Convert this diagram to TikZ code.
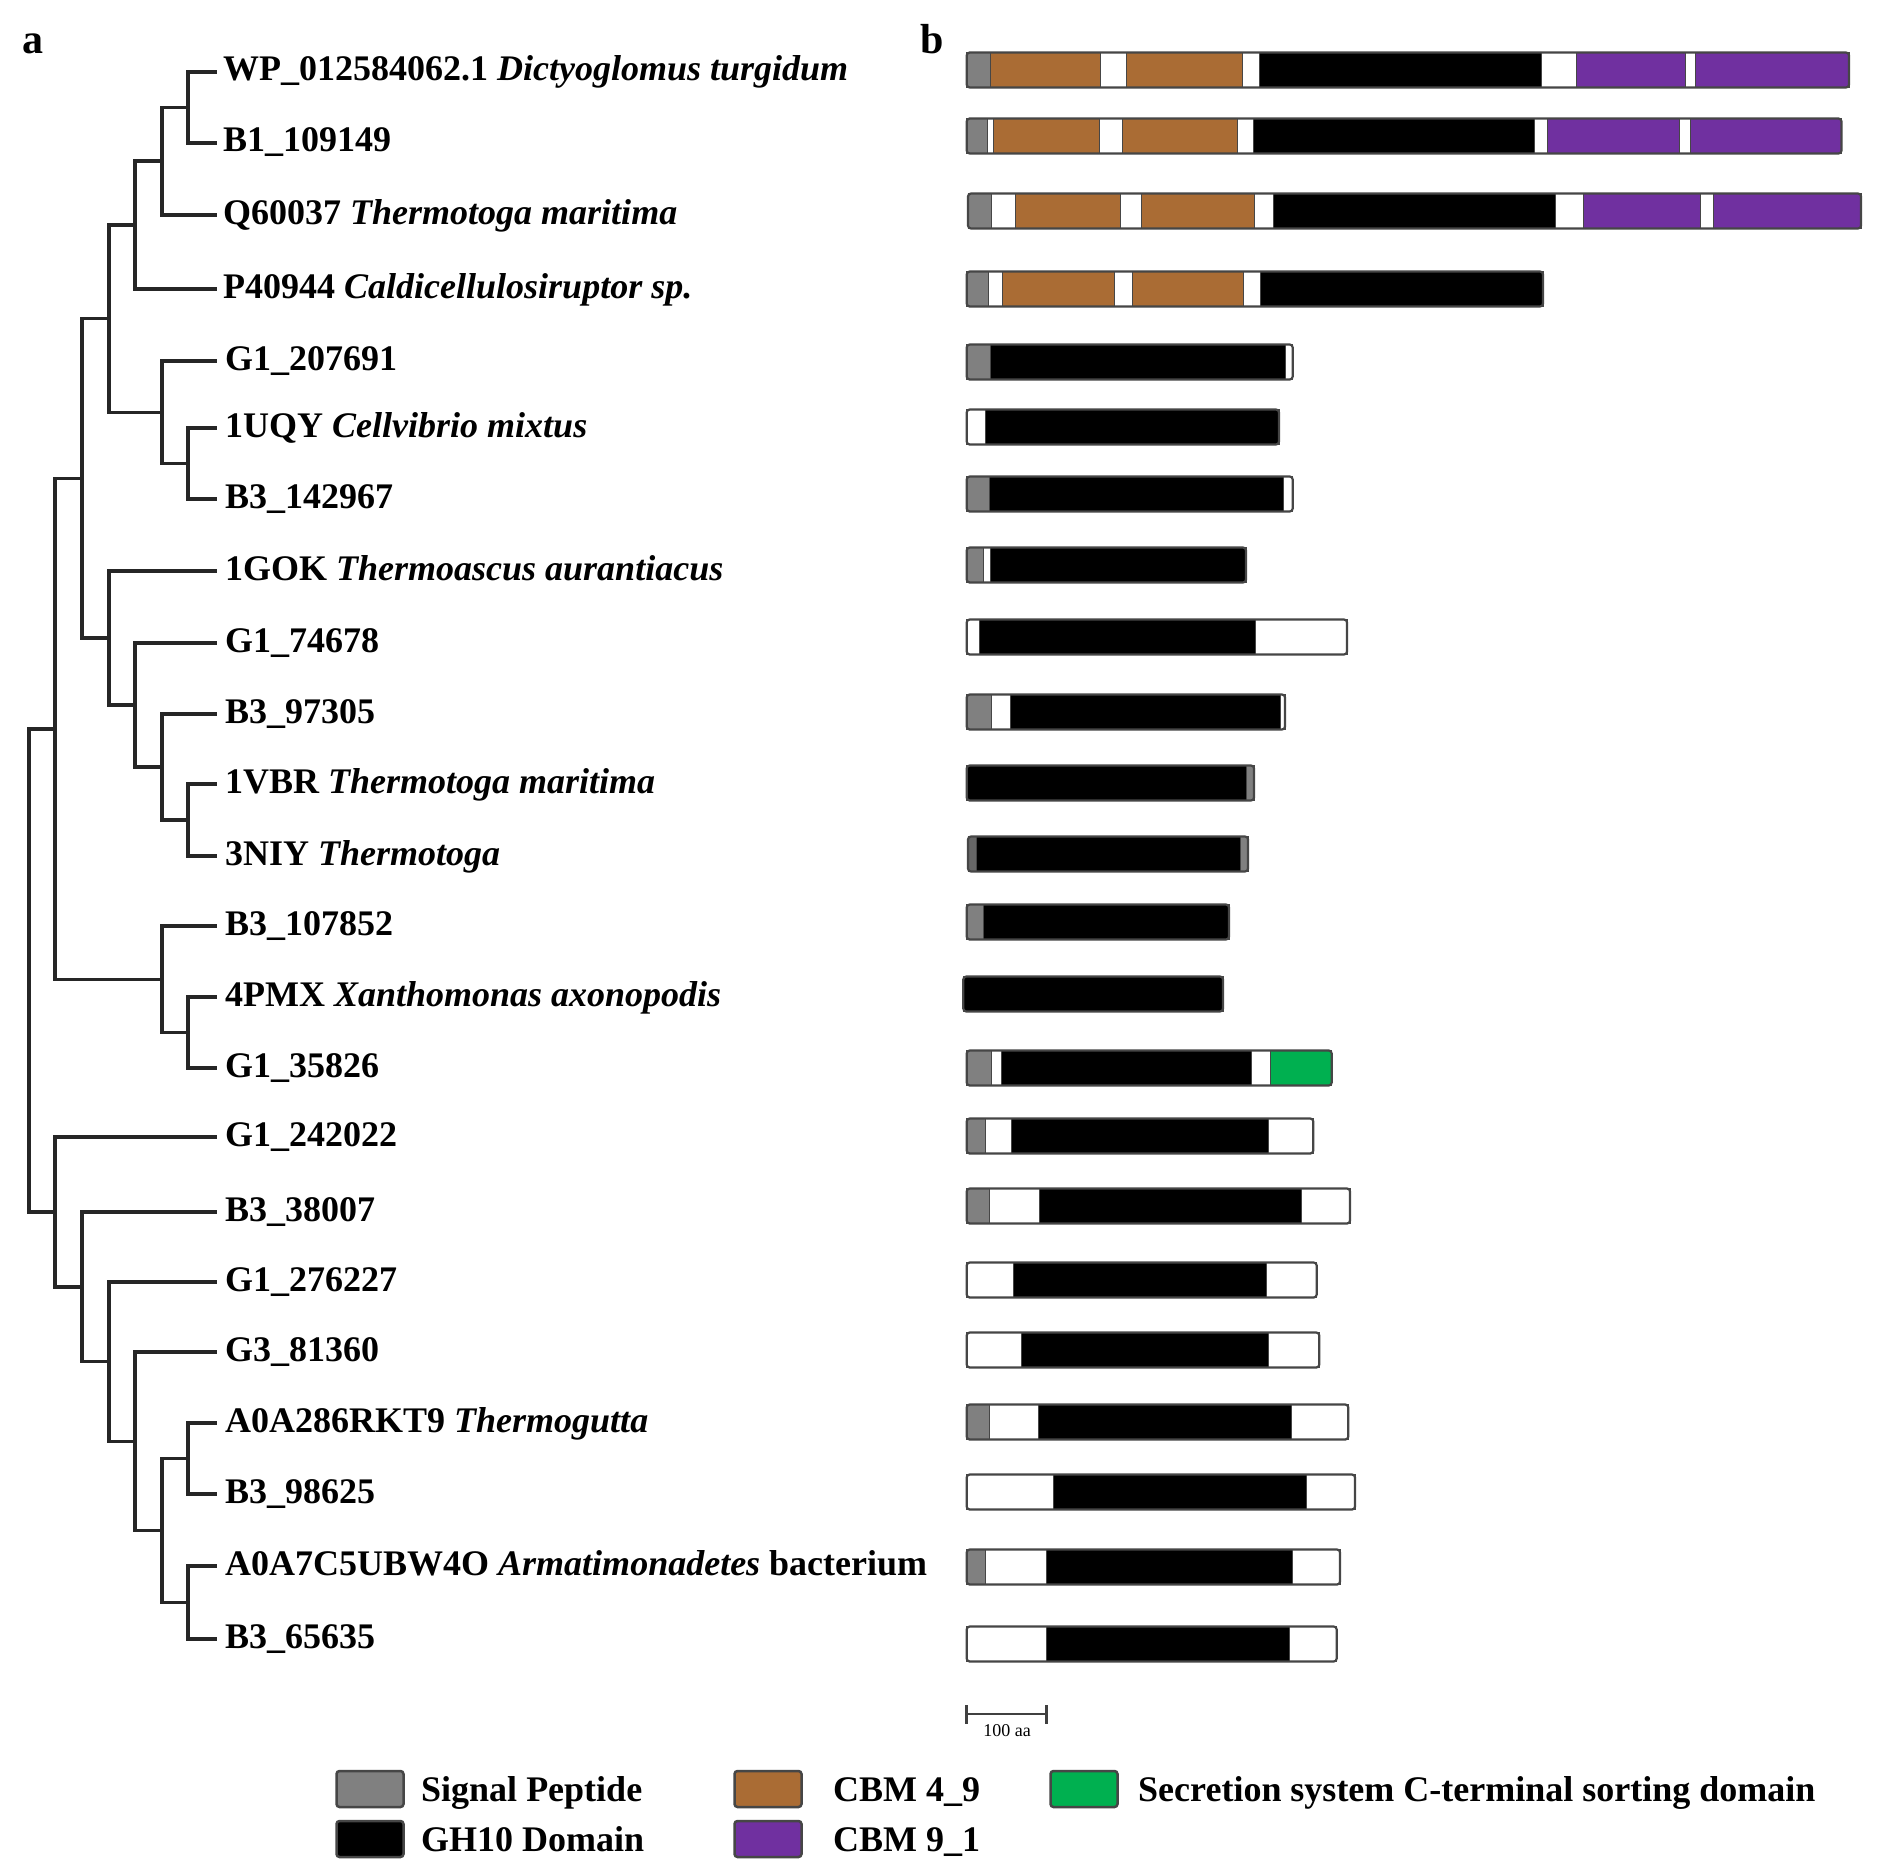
\documentclass[tikz,border=0pt]{standalone}
\usepackage{fontspec}
\setmainfont{Liberation Serif}
\definecolor{spgrey}{RGB}{128,128,128}
\definecolor{cbmbrown}{RGB}{170,108,52}
\definecolor{cbmpurple}{RGB}{112,48,160}
\definecolor{secgreen}{RGB}{0,176,80}
\definecolor{edgegrey}{RGB}{70,70,70}
\tikzset{
  branch/.style={line width=3.4pt, draw=black!85, line cap=rect},
  leaflabel/.style={anchor=base west, inner sep=0pt, font=\fontsize{36}{40}\selectfont\bfseries},
  panellabel/.style={anchor=base west, inner sep=0pt, font=\fontsize{42}{46}\selectfont\bfseries},
  segment/.style={draw=edgegrey, line width=1pt},
  barline/.style={draw=edgegrey, line width=2.2pt, rounded corners=3pt},
  legbox/.style={draw=edgegrey, line width=2.5pt, rounded corners=3pt, minimum width=67pt, minimum height=36pt, inner sep=0pt},
  scaleline/.style={draw=black!75, line width=2.5pt},
}
% #1 y centre, #2 start x, #3 end x, #4 list of end-x/colour
\newcommand{\dombar}[4]{%
  \foreach \e/\c [remember=\e as \b (initially #2)] in {#4}
    {\path[segment, fill=\c] (\b,#1-17.5) rectangle (\e,#1+17.5);}
  \draw[barline] (#2,#1-17.5) rectangle (#3,#1+17.5);
}
\begin{document}
\begin{tikzpicture}[x=1pt,y=-1pt]
\useasboundingbox (0,0) rectangle (1885,1865);
\fill[white] (0,0) rectangle (1885,1865);

% panel labels
\node[panellabel] (pa) at (22,54) {a};
\node[panellabel] (pb) at (920,54) {b};

% leaves
\coordinate (l1) at (215,72);
\coordinate (l2) at (215,143);
\coordinate (l3) at (215,215);
\coordinate (l4) at (215,289);
\coordinate (l5) at (215,361);
\coordinate (l6) at (215,428);
\coordinate (l7) at (215,499);
\coordinate (l8) at (215,571);
\coordinate (l9) at (215,643);
\coordinate (l10) at (215,714);
\coordinate (l11) at (215,784);
\coordinate (l12) at (215,856);
\coordinate (l13) at (215,926);
\coordinate (l14) at (215,997);
\coordinate (l15) at (215,1068);
\coordinate (l16) at (215,1137);
\coordinate (l17) at (215,1212);
\coordinate (l18) at (215,1282);
\coordinate (l19) at (215,1352);
\coordinate (l20) at (215,1423);
\coordinate (l21) at (215,1494);
\coordinate (l22) at (215,1566);
\coordinate (l23) at (215,1639);

% internal nodes
\coordinate (nA) at (188,107.5);
\coordinate (nB) at (162,161.2);
\coordinate (nC) at (135,225.1);
\coordinate (nD) at (188,463.5);
\coordinate (nE) at (162,412.2);
\coordinate (nF) at (109,318.7);
\coordinate (nG) at (188,820);
\coordinate (nH) at (162,767);
\coordinate (nI) at (135,705);
\coordinate (nJ) at (109,638);
\coordinate (nK) at (82,478.3);
\coordinate (nM) at (188,1032.5);
\coordinate (nN) at (162,979.2);
\coordinate (nO) at (55,728.8);
\coordinate (nP) at (188,1602.5);
\coordinate (nQ) at (188,1458.5);
\coordinate (nR) at (162,1530.5);
\coordinate (nS) at (135,1441.2);
\coordinate (nT) at (109,1361.6);
\coordinate (nU) at (82,1286.8);
\coordinate (nV) at (55,1211.9);
\coordinate (nRoot) at (29,970.3);

% branches
\draw[branch] (nA) |- (l1); \draw[branch] (nA) |- (l2);
\draw[branch] (nB) |- (nA); \draw[branch] (nB) |- (l3);
\draw[branch] (nC) |- (nB); \draw[branch] (nC) |- (l4);
\draw[branch] (nD) |- (l6); \draw[branch] (nD) |- (l7);
\draw[branch] (nE) |- (l5); \draw[branch] (nE) |- (nD);
\draw[branch] (nF) |- (nC); \draw[branch] (nF) |- (nE);
\draw[branch] (nG) |- (l11); \draw[branch] (nG) |- (l12);
\draw[branch] (nH) |- (l10); \draw[branch] (nH) |- (nG);
\draw[branch] (nI) |- (l9); \draw[branch] (nI) |- (nH);
\draw[branch] (nJ) |- (l8); \draw[branch] (nJ) |- (nI);
\draw[branch] (nK) |- (nF); \draw[branch] (nK) |- (nJ);
\draw[branch] (nM) |- (l14); \draw[branch] (nM) |- (l15);
\draw[branch] (nN) |- (l13); \draw[branch] (nN) |- (nM);
\draw[branch] (nO) |- (nK); \draw[branch] (nO) |- (nN);
\draw[branch] (nP) |- (l22); \draw[branch] (nP) |- (l23);
\draw[branch] (nQ) |- (l20); \draw[branch] (nQ) |- (l21);
\draw[branch] (nR) |- (nQ); \draw[branch] (nR) |- (nP);
\draw[branch] (nS) |- (l19); \draw[branch] (nS) |- (nR);
\draw[branch] (nT) |- (l18); \draw[branch] (nT) |- (nS);
\draw[branch] (nU) |- (l17); \draw[branch] (nU) |- (nT);
\draw[branch] (nV) |- (l16); \draw[branch] (nV) |- (nU);
\draw[branch] (nRoot) |- (nO); \draw[branch] (nRoot) |- (nV);

% leaf labels
\node[leaflabel] (t1) at ([shift={(8,9)}]l1) {WP\_012584062.1 \textit{Dictyoglomus turgidum}};
\node[leaflabel] (t2) at ([shift={(8,9)}]l2) {B1\_109149};
\node[leaflabel] (t3) at ([shift={(8,9)}]l3) {Q60037 \textit{Thermotoga maritima}};
\node[leaflabel] (t4) at ([shift={(8,9)}]l4) {P40944 \textit{Caldicellulosiruptor sp.}};
\node[leaflabel] (t5) at ([shift={(10,9)}]l5) {G1\_207691};
\node[leaflabel] (t6) at ([shift={(10,9)}]l6) {1UQY \textit{Cellvibrio mixtus}};
\node[leaflabel] (t7) at ([shift={(10,9)}]l7) {B3\_142967};
\node[leaflabel] (t8) at ([shift={(10,9)}]l8) {1GOK \textit{Thermoascus aurantiacus}};
\node[leaflabel] (t9) at ([shift={(10,9)}]l9) {G1\_74678};
\node[leaflabel] (t10) at ([shift={(10,9)}]l10) {B3\_97305};
\node[leaflabel] (t11) at ([shift={(10,9)}]l11) {1VBR \textit{Thermotoga maritima}};
\node[leaflabel] (t12) at ([shift={(10,9)}]l12) {3NIY \textit{Thermotoga}};
\node[leaflabel] (t13) at ([shift={(10,9)}]l13) {B3\_107852};
\node[leaflabel] (t14) at ([shift={(10,9)}]l14) {4PMX \textit{Xanthomonas axonopodis}};
\node[leaflabel] (t15) at ([shift={(10,9)}]l15) {G1\_35826};
\node[leaflabel] (t16) at ([shift={(10,9)}]l16) {G1\_242022};
\node[leaflabel] (t17) at ([shift={(10,9)}]l17) {B3\_38007};
\node[leaflabel] (t18) at ([shift={(10,9)}]l18) {G1\_276227};
\node[leaflabel] (t19) at ([shift={(10,9)}]l19) {G3\_81360};
\node[leaflabel] (t20) at ([shift={(10,9)}]l20) {A0A286RKT9 \textit{Thermogutta}};
\node[leaflabel] (t21) at ([shift={(10,9)}]l21) {B3\_98625};
\node[leaflabel] (t22) at ([shift={(10,9)}]l22) {A0A7C5UBW4O \textit{Armatimonadetes} bacterium};
\node[leaflabel] (t23) at ([shift={(10,9)}]l23) {B3\_65635};

% domain bars
\dombar{70}{966.7}{1849}{990.5/spgrey,1100/cbmbrown,1126/white,1242/cbmbrown,1259/white,1541.5/black,1576/white,1685/cbmpurple,1695/white,1849/cbmpurple}
\dombar{136}{966.7}{1841.5}{987/spgrey,993/white,1099/cbmbrown,1122/white,1237/cbmbrown,1253/white,1534/black,1547.5/white,1679/cbmpurple,1690.6/white,1841.5/cbmpurple}
\dombar{211}{968}{1861}{991.7/spgrey,1015.6/white,1120/cbmbrown,1141/white,1254/cbmbrown,1273/white,1555/black,1583/white,1700/cbmpurple,1713/white,1861/cbmpurple}
\dombar{289}{966.7}{1543}{988.8/spgrey,1002.5/white,1114/cbmbrown,1132/white,1243/cbmbrown,1260/white,1543/black}
\dombar{362}{966.7}{1292.7}{990.7/spgrey,1285/black,1292.7/white}
\dombar{427}{966.7}{1279}{985/white,1279/black}
\dombar{494}{966.7}{1292.7}{989.3/spgrey,1283/black,1292.7/white}
\dombar{565}{966.7}{1246}{983.3/spgrey,990.7/white,1246/black}
\dombar{637}{966.7}{1347}{979.3/white,1255/black,1347/white}
\dombar{712}{966.7}{1285}{991.7/spgrey,1010/white,1280/black,1285/white}
\dombar{783}{966.7}{1254}{1246.7/black,1254/spgrey}
\dombar{854}{968}{1248}{976/black!60,1240/black,1248/spgrey}
\dombar{922}{966.7}{1229}{983.3/spgrey,1229/black}
\dombar{994}{963.3}{1223}{1223/black}
\dombar{1068}{966.7}{1331.7}{991.7/spgrey,1001.7/white,1251.7/black,1270/white,1331.7/secgreen}
\dombar{1136}{966.7}{1313.3}{985/spgrey,1011.7/white,1268.3/black,1313.3/white}
\dombar{1206}{966.7}{1350}{989.3/spgrey,1039.3/white,1301.7/black,1350/white}
\dombar{1280}{966.7}{1316.7}{1013.3/white,1266/black,1316.7/white}
\dombar{1350}{966.7}{1319.3}{1021.7/white,1268.3/black,1319.3/white}
\dombar{1422}{966.7}{1348.3}{989.3/spgrey,1038.3/white,1291.7/black,1348.3/white}
\dombar{1492}{966.7}{1355}{1053.3/white,1306/black,1355/white}
\dombar{1567}{966.7}{1340}{985/spgrey,1046.7/white,1292.7/black,1340/white}
\dombar{1644}{966.7}{1336.7}{1046.7/white,1289.3/black,1336.7/white}

% scale bar
\coordinate (s0) at (966.7,1714);
\coordinate (s1) at (1046.7,1714);
\draw[scaleline] (s0) -- (s1);
\draw[scaleline] ([yshift=9pt]s0) -- ([yshift=-10pt]s0);
\draw[scaleline] ([yshift=9pt]s1) -- ([yshift=-10pt]s1);
\node[inner sep=0pt, font=\fontsize{18}{20}\selectfont] (sl) at (1007,1731) {100 aa};

% legend
\node[legbox, fill=spgrey] (kSP) at (370,1789) {};
\node[legbox, fill=black] (kGH) at (370,1839) {};
\node[legbox, fill=cbmbrown] (kA) at (768,1789) {};
\node[legbox, fill=cbmpurple] (kB) at (768,1839) {};
\node[legbox, fill=secgreen] (kS) at (1084,1789) {};
\node[leaflabel] (tSP) at (421,1801) {Signal Peptide};
\node[leaflabel] (tGH) at (421,1851) {GH10 Domain};
\node[leaflabel] (tA) at (833,1801) {CBM 4\_9};
\node[leaflabel] (tB) at (833,1851) {CBM 9\_1};
\node[leaflabel] (tS) at (1138,1801) {Secretion system C-terminal sorting domain};
\end{tikzpicture}
\end{document}
